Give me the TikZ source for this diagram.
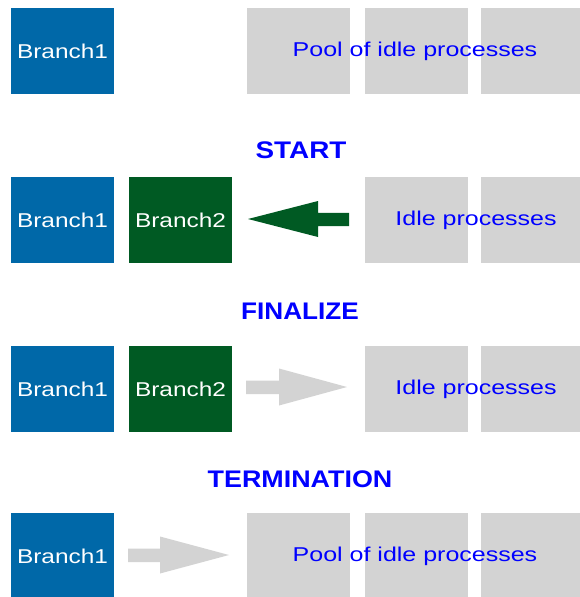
\documentclass[tikz,border=0pt]{standalone}
\usepackage{fontspec}
\setmainfont{Liberation Sans}
\usepackage{graphicx}
\usetikzlibrary{calc}
\definecolor{branchblue}{RGB}{0,104,168}
\definecolor{branchgreen}{RGB}{0,90,35}
\definecolor{idlegray}{RGB}{211,211,211}
\definecolor{labelblue}{RGB}{0,0,255}
\newcommand{\widetext}[2]{\scalebox{#1}[1]{#2}}
\begin{document}
\begin{tikzpicture}[x=1pt,y=-1pt,
  box/.style={minimum width=103pt,minimum height=86pt,inner sep=0pt,outer sep=0pt,anchor=north west},
  branchA/.style={box,fill=branchblue,text=white,font=\fontsize{20}{20}\selectfont},
  branchB/.style={box,fill=branchgreen,text=white,font=\fontsize{20}{20}\selectfont},
  idle/.style={box,fill=idlegray},
  pooltext/.style={text=labelblue,font=\fontsize{20}{20}\selectfont,inner sep=0pt},
  phase/.style={text=labelblue,font=\fontsize{24}{24}\selectfont\bfseries,inner sep=0pt}]
\useasboundingbox (0,0) rectangle (580,597);
\begin{scope}
\clip (0,0) rectangle (580,597);

% row 1: initial state
\node[branchA] (b1a) at (11,8) {\widetext{1.22}{Branch1}};
\node[idle] (p1a) at (247,8) {};
\node[idle] (p1b) at (365,8) {};
\node[idle] (p1c) at (481,8) {};
\node[pooltext] (pool1) at (415,51) {\widetext{1.25}{Pool of idle processes}};

% row 2: START -- an idle process becomes Branch2
\node[phase] (start) at (301,150) {\widetext{1.16}{START}};
\node[branchA] (b2a) at (11,177) {\widetext{1.22}{Branch1}};
\node[branchB] (b2b) at (129,177) {\widetext{1.22}{Branch2}};
\node[idle] (p2b) at (365,177) {};
\node[idle] (p2c) at (481,177) {};
\node[pooltext] (idle2) at (476,220) {\widetext{1.25}{Idle processes}};
\fill[branchgreen] (349,212.8) -- (318,212.8) -- (318,201) -- (248,219) -- (318,237) -- (318,226.2) -- (349,226.2) -- cycle;

% row 3: FINALIZE -- Branch2 goes back to the pool
\node[phase] (final) at (300,311) {\widetext{1.09}{FINALIZE}};
\node[branchA] (b3a) at (11,346) {\widetext{1.22}{Branch1}};
\node[branchB] (b3b) at (129,346) {\widetext{1.22}{Branch2}};
\node[idle] (p3b) at (365,346) {};
\node[idle] (p3c) at (481,346) {};
\node[pooltext] (idle3) at (476,389) {\widetext{1.25}{Idle processes}};
\fill[idlegray] (246,380.5) -- (279,380.5) -- (279,368.5) -- (347,387) -- (279,405.5) -- (279,394) -- (246,394) -- cycle;

% row 4: TERMINATION
\node[phase] (term) at (300,479) {\widetext{1.12}{TERMINATION}};
\node[branchA] (b4a) at (11,513) {\widetext{1.22}{Branch1}};
\node[idle] (p4a) at (247,513) {};
\node[idle] (p4b) at (365,513) {};
\node[idle] (p4c) at (481,513) {};
\node[pooltext] (pool4) at (415,556) {\widetext{1.25}{Pool of idle processes}};
\fill[idlegray] (128,548.5) -- (160,548.5) -- (160,536.5) -- (229,555) -- (160,573.5) -- (160,562) -- (128,562) -- cycle;
\end{scope}
\end{tikzpicture}
\end{document}
